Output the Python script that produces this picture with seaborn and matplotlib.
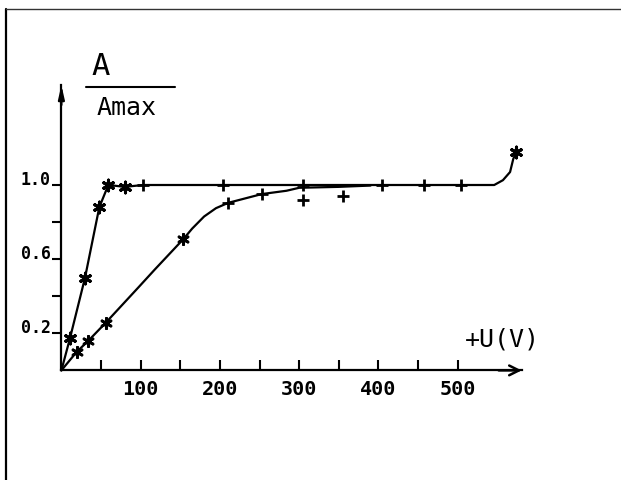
import matplotlib
matplotlib.use("Agg")
import matplotlib.pyplot as plt
from matplotlib.lines import Line2D
import seaborn as sns
import pandas as pd

# ---- data ----
fast_curve_v = [0, 10.8, 29.8, 47.8, 59.2, 80, 103, 204, 305, 405, 458, 504, 546, 557, 566, 570, 574]
fast_curve_a = [0, 0.173, 0.50, 0.88, 1.0, 0.99, 1.0, 1.0, 1.0, 1.0, 1.0, 1.0, 1.0, 1.026, 1.07, 1.14, 1.18]
fast_star_v = [10.8, 29.8, 47.8, 59.2, 80, 574]
fast_star_a = [0.173, 0.50, 0.88, 1.0, 0.99, 1.18]
plateau_plus_v = [103, 204, 305, 405, 458, 504]
plateau_plus_a = [1.0, 1.0, 1.0, 1.0, 1.0, 1.0]

slow_curve_v = [0, 19.3, 34, 55.9, 97, 118, 153.8, 165, 180, 195, 210.6, 252.7, 284, 300, 350, 390]
slow_curve_a = [0, 0.10, 0.16, 0.257, 0.447, 0.545, 0.708, 0.765, 0.83, 0.875, 0.904, 0.951, 0.969, 0.985, 0.99, 0.997]
slow_star_v = [19.3, 34, 55.9, 153.8]
slow_star_a = [0.10, 0.16, 0.257, 0.708]
slow_plus_v = [210.6, 252.7, 305, 355]
slow_plus_a = [0.904, 0.951, 0.92, 0.94]

x_ticks = [50, 100, 150, 200, 250, 300, 350, 400, 450, 500]
x_tick_labels = ["", "100", "", "200", "", "300", "", "400", "", "500"]
y_ticks = [0.2, 0.4, 0.6, 0.8, 1.0]
y_tick_labels = ["0.2", "", "0.6", "", "1.0"]

# ---- style ----
sns.set_style("ticks")
plt.rcParams["font.family"] = ["DejaVu Sans Mono", "DejaVu Sans"]
plt.rcParams["text.color"] = "black"
plt.rcParams["xtick.color"] = "black"
plt.rcParams["ytick.color"] = "black"
plt.rcParams["xtick.labelcolor"] = "black"
plt.rcParams["ytick.labelcolor"] = "black"

W, H = 621, 480
fig = plt.figure(figsize=(W / 100, H / 100), dpi=100)

def px(x, y):
    return x / W, 1 - y / H

x0, y0 = 61.4, 370.4   # origin pixel
x1, y1 = 521.7, 85.0   # arrow tips
ax = fig.add_axes([x0 / W, (H - y0) / H, (x1 - x0) / W, (y0 - y1) / H])
ax.set_xlim(0, (x1 - x0) / 0.7927)
ax.set_ylim(0, (y0 - y1) / 185.4)

black = "#000000"

fast_df = pd.DataFrame({"U": fast_curve_v, "A": fast_curve_a})
slow_df = pd.DataFrame({"U": slow_curve_v, "A": slow_curve_a})
sns.lineplot(data=fast_df, x="U", y="A", sort=False, estimator=None,
             color=black, lw=1.6, ax=ax, clip_on=False)
sns.lineplot(data=slow_df, x="U", y="A", sort=False, estimator=None,
             color=black, lw=1.6, ax=ax, clip_on=False)

star = (6, 2, 0)
sns.scatterplot(x=fast_star_v, y=fast_star_a, marker=star, s=60, color=black,
                linewidth=2.2, ax=ax, clip_on=False, zorder=3)
sns.scatterplot(x=slow_star_v, y=slow_star_a, marker=star, s=55, color=black,
                linewidth=2.0, ax=ax, clip_on=False, zorder=3)
sns.scatterplot(x=plateau_plus_v, y=plateau_plus_a, marker="+", s=85, color=black,
                linewidth=2.0, ax=ax, clip_on=False, zorder=3)
sns.scatterplot(x=slow_plus_v, y=slow_plus_a, marker="+", s=75, color=black,
                linewidth=2.0, ax=ax, clip_on=False, zorder=3)

# axes appearance
for s in ("top", "right"):
    ax.spines[s].set_visible(False)
for s in ("left", "bottom"):
    ax.spines[s].set_linewidth(1.6)
    ax.spines[s].set_color(black)
ax.set_xlabel("")
ax.set_ylabel("")

ax.set_xticks(x_ticks)
ax.set_xticklabels(x_tick_labels, fontsize=14.5, fontweight="bold")
ax.set_yticks(y_ticks)
ax.set_yticklabels(y_tick_labels, fontsize=12, fontweight="bold")
ax.tick_params(axis="x", direction="in", length=7, width=1.5, pad=7, color=black)
ax.tick_params(axis="y", direction="out", length=6.5, width=1.5, pad=1, color=black)
for lab in ax.get_yticklabels():
    lab.set_va("baseline")

# arrow heads
ax.annotate("", xy=(1, 0), xytext=(0.95, 0), xycoords="axes fraction",
            arrowprops=dict(arrowstyle="->,head_length=0.7,head_width=0.35",
                            lw=1.8, color=black, shrinkA=0, shrinkB=0))
ax.annotate("", xy=(0, 1), xytext=(0, 0.93), xycoords="axes fraction",
            arrowprops=dict(arrowstyle="-|>,head_length=0.8,head_width=0.18",
                            lw=1.6, color=black, shrinkA=0, shrinkB=0))

# labels
fig.text(*px(100.8, 75), "A", fontsize=22, ha="center", va="baseline", color=black)
fig.add_artist(Line2D([86 / W, 175 / W], [1 - 87.3 / H, 1 - 87.3 / H],
                      color=black, lw=1.5))
fig.text(*px(126.3, 115), "Amax", fontsize=18, ha="center", va="baseline", color=black)
fig.text(*px(502, 346), "+U(V)", fontsize=18, ha="center", va="baseline", color=black)

# frame of the scanned page
fig.add_artist(Line2D([6 / W, 6 / W], [0, 1 - 9 / H], color=black, lw=1.6))
fig.add_artist(Line2D([6 / W, 1], [1 - 9 / H, 1 - 9 / H], color="#333333", lw=1.0))

fig.savefig("out.png", dpi=100)
